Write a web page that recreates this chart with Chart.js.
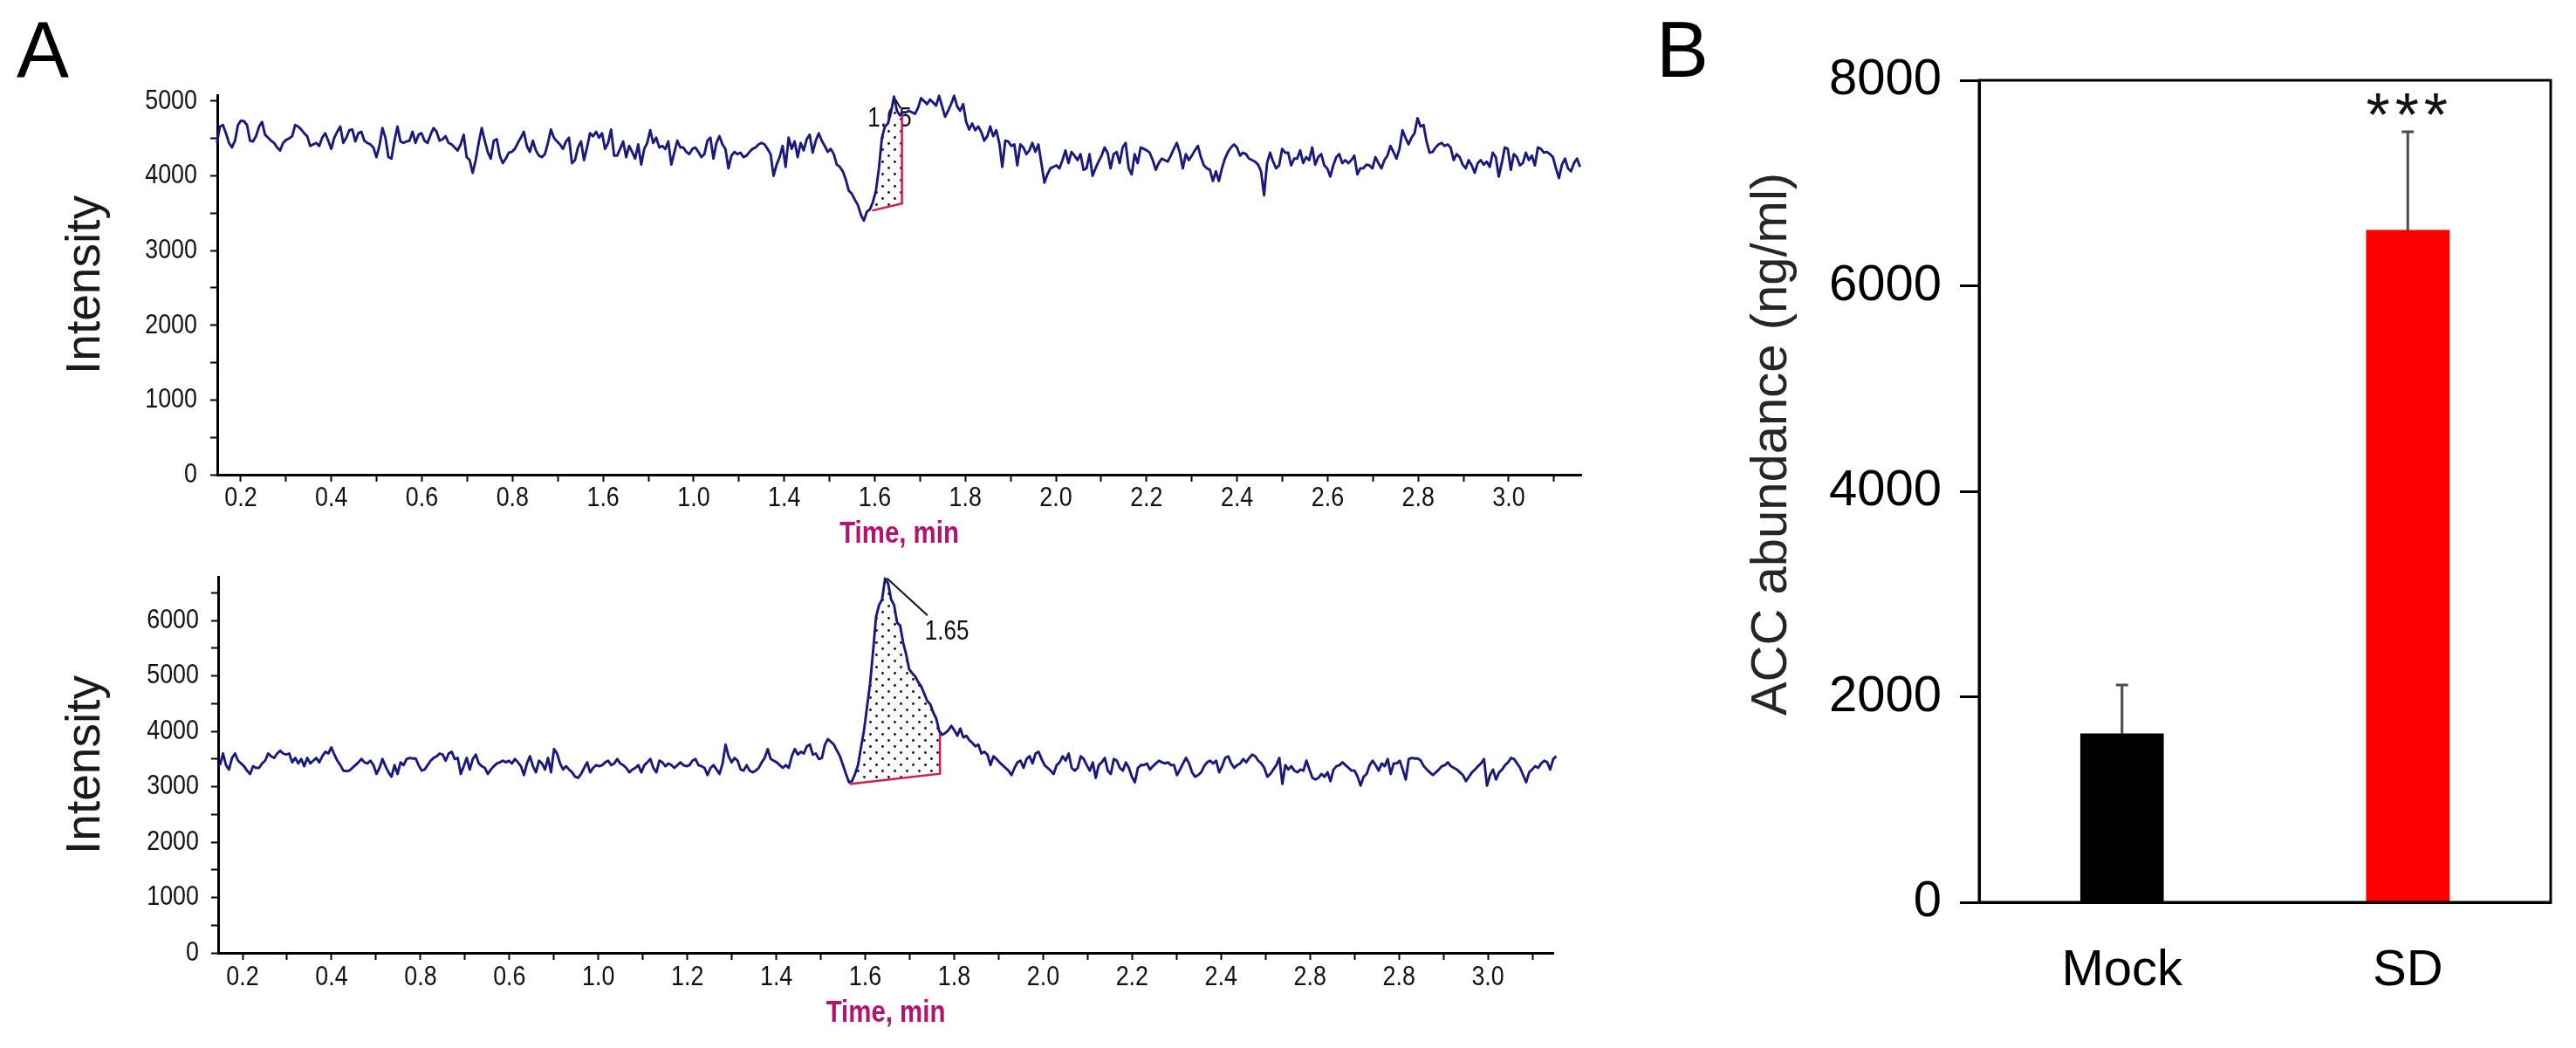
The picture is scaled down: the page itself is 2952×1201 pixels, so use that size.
<!DOCTYPE html>
<html>
<head>
<meta charset="utf-8">
<title>ACC chromatograms and abundance</title>
<script src="https://cdn.jsdelivr.net/npm/chart.js@4.4.1/dist/chart.umd.min.js"></script>
<style>
  html, body { margin: 0; padding: 0; background: #fff; }
  body { width: 2952px; height: 1201px; position: relative; overflow: hidden; }
  .box { position: absolute; }
  .panel { position: absolute; font-family: 'Liberation Sans', Arial, sans-serif; font-size: 90px; line-height: 1; color: #000; }
</style>
</head>
<body>
<div class="panel" style="left:19px; top:12px;">A</div>
<div class="panel" style="left:1898px; top:12px;">B</div>
<div class="box" style="left:0; top:0; width:1840px; height:650px;"><canvas id="top"></canvas></div>
<div class="box" style="left:0; top:600px; width:1840px; height:601px;"><canvas id="bottom"></canvas></div>
<div class="box" style="left:1850px; top:0; width:1102px; height:1201px;"><canvas id="bars"></canvas></div>
<script>
const SANS = "'Liberation Sans', Arial, sans-serif";
const NARROW_SCALE = 0.84; // the instrument software prints in a condensed face

// sampling of the two chromatogram traces (min)
const topStart = 0.1472, topStep = 0.006645;
const bottomStart = 0.1491, bottomStep = 0.006767;

// intensity
const topIntensity = [
  4440, 4660, 4680, 4570, 4440, 4380, 4470, 4680, 4740, 4730,
  4680, 4470, 4460, 4530, 4660, 4720, 4550, 4510, 4470, 4440,
  4380, 4340, 4440, 4480, 4500, 4530, 4680, 4660, 4620, 4570,
  4530, 4400, 4420, 4440, 4400, 4510, 4570, 4470, 4360, 4510,
  4590, 4660, 4440, 4510, 4610, 4620, 4460, 4570, 4590, 4470,
  4440, 4420, 4380, 4250, 4400, 4640, 4510, 4250, 4230, 4470,
  4660, 4460, 4440, 4460, 4470, 4590, 4440, 4550, 4570, 4470,
  4440, 4550, 4640, 4590, 4470, 4490, 4530, 4440, 4420, 4380,
  4340, 4420, 4550, 4250, 4210, 4040, 4210, 4440, 4640, 4470,
  4320, 4230, 4470, 4490, 4270, 4170, 4230, 4310, 4320, 4360,
  4440, 4510, 4590, 4400, 4320, 4470, 4340, 4270, 4250, 4290,
  4440, 4620, 4510, 4460, 4420, 4360, 4460, 4510, 4170, 4210,
  4380, 4460, 4210, 4380, 4570, 4530, 4590, 4510, 4570, 4360,
  4440, 4620, 4270, 4270, 4360, 4460, 4250, 4400, 4320, 4230,
  4420, 4150, 4360, 4440, 4610, 4440, 4510, 4380, 4400, 4360,
  4460, 4150, 4310, 4470, 4380,
  4380, 4320, 4290, 4360, 4380, 4320, 4250, 4290, 4470, 4510,
  4230, 4440, 4530, 4420, 4360, 4100, 4270, 4320, 4290, 4310,
  4250, 4270, 4320, 4360, 4380, 4420, 4440, 4420, 4360, 4290,
  4000, 4150, 4250, 4400, 4120, 4510, 4360, 4460, 4250, 4440,
  4340, 4490, 4550, 4310, 4470, 4570, 4470, 4400, 4320, 4360,
  4290, 4150, 4120, 4060, 3950, 3800, 3760, 3680, 3610, 3480,
  3400, 3520, 3550, 3650, 3800, 4100, 4510, 4660, 4700, 4850,
  5060, 4870, 4810, 4850, 4850, 4870, 4850, 4830, 4910, 5040,
  5000, 4960, 5020, 4980, 4940, 5070, 4930, 4790, 4870, 4960,
  5070, 4930, 4870, 4960, 4720, 4620, 4700, 4610, 4660, 4590,
  4470, 4530, 4660, 4530, 4610, 4440, 4120, 4470, 4460, 4400,
  4420, 4140, 4420, 4380, 4290, 4340, 4440, 4320, 4420, 4170,
  3910, 4020, 4100, 4120, 4140, 4100, 4210, 4340, 4170, 4320,
  4270, 4210, 4290, 4080, 4100, 4290, 4000, 4100, 4190, 4270,
  4380, 4310, 4100, 4290, 4320, 4170, 4380, 4440, 4100, 4020,
  4290, 4170, 4380, 4360,
  4340, 4310, 4210, 4080, 4170, 4230, 4210, 4190, 4270, 4360,
  4440, 4310, 4100, 4290, 4210, 4270, 4340, 4400, 4250, 4140,
  4100, 4080, 3930, 4060, 3930, 4100, 4230, 4320, 4380, 4420,
  4380, 4270, 4310, 4290, 4230, 4210, 4190, 4150, 4060, 3740,
  4170, 4310, 4190, 4100, 4140, 4360, 4310, 4310, 4140, 4230,
  4230, 4340, 4170, 4250, 4210, 4380, 4150, 4250, 4290, 4140,
  4100, 3990, 4140, 4250, 4290, 4170, 4210, 4170, 4210, 4270,
  4020, 4100, 4100, 4150, 4140, 4100, 4250, 4170, 4100, 4210,
  4270, 4400, 4320, 4230, 4360, 4610, 4510, 4420, 4510, 4570,
  4770, 4660, 4680, 4460, 4310, 4320, 4380, 4420, 4440, 4400,
  4420, 4380, 4210, 4290, 4250, 4150, 4100, 4210, 4140, 4040,
  4170, 4210, 4150, 4190, 4120, 4310, 4250, 3990, 4170, 4380,
  4360, 4080, 4290, 4250, 4140, 4170, 4310, 4210, 4270, 4140,
  4380, 4360, 4310, 4320, 4290, 4250, 4100, 3970, 4150, 4230,
  4100, 4060, 4170, 4230, 4120
];

// intensity
const bottomIntensity = [
  3390, 3600, 3390, 3310, 3520, 3600, 3470, 3420, 3370, 3290,
  3230, 3370, 3340, 3340, 3420, 3470, 3600, 3550, 3520, 3600,
  3650, 3600, 3580, 3600, 3440, 3520, 3420, 3500, 3370, 3520,
  3420, 3470, 3520, 3440, 3550, 3630, 3600, 3710, 3580, 3470,
  3390, 3290, 3280, 3290, 3340, 3390, 3440, 3500, 3440, 3420,
  3470, 3390, 3230, 3340, 3500, 3370, 3260, 3180, 3390, 3230,
  3440, 3390, 3500, 3520, 3510, 3510, 3390, 3290, 3310, 3390,
  3470, 3520, 3550, 3600, 3580, 3470, 3600, 3630, 3500, 3520,
  3230, 3370, 3520, 3310, 3500, 3580, 3420, 3370, 3340, 3230,
  3310, 3370, 3420, 3440, 3470, 3440, 3470, 3420, 3500, 3440,
  3370, 3210, 3420, 3550, 3370, 3260, 3470, 3420, 3310, 3520,
  3260, 3680, 3600, 3420, 3310, 3370, 3310, 3260, 3180, 3160,
  3230, 3340, 3440, 3260, 3340, 3390, 3370, 3390, 3440, 3470,
  3390, 3420, 3500, 3420, 3390, 3340, 3260, 3310, 3340, 3390,
  3260, 3390, 3440, 3500, 3340, 3260, 3470, 3440, 3370, 3420,
  3390, 3340, 3390, 3440,
  3390, 3370, 3390, 3470, 3500, 3390, 3370, 3340, 3210, 3340,
  3390, 3310, 3230, 3420, 3760, 3550, 3440, 3520, 3470, 3310,
  3290, 3390, 3290, 3260, 3290, 3340, 3440, 3520, 3680, 3500,
  3470, 3440, 3390, 3340, 3390, 3340, 3550, 3680, 3580, 3630,
  3600, 3730, 3760, 3580, 3600, 3500, 3520, 3760, 3860, 3810,
  3760, 3650, 3550, 3390, 3230, 3080, 3100, 3230, 3390, 3710,
  4020, 4440, 4860, 5440, 6070, 6280, 6380, 6760, 6670, 6380,
  6280, 5960, 5910, 5600, 5390, 5120, 5050, 4990, 4890, 4810,
  4680, 4550, 4490, 4340, 4230, 4000, 3940, 3970, 4020, 4100,
  4020, 3920, 4050, 3890, 3920, 3840, 3790, 3730, 3760, 3600,
  3630, 3580, 3390, 3550, 3500, 3440, 3390, 3340, 3290, 3210,
  3340, 3440, 3470, 3340, 3500, 3550, 3420, 3600, 3630, 3500,
  3390, 3340, 3290, 3230, 3390, 3440, 3550, 3470, 3600, 3340,
  3290, 3340, 3550, 3500, 3390, 3290, 3440, 3160, 3390, 3440,
  3520, 3290, 3230, 3500, 3470, 3340, 3290, 3440, 3340, 3180,
  3080, 3340, 3390, 3390,
  3420, 3310, 3370, 3420, 3470, 3440, 3420, 3440, 3390, 3390,
  3210, 3310, 3420, 3520, 3420, 3260, 3180, 3210, 3260, 3370,
  3440, 3470, 3420, 3470, 3260, 3370, 3520, 3550, 3420, 3340,
  3390, 3420, 3500, 3440, 3520, 3580, 3550, 3470, 3420, 3340,
  3180, 3230, 3310, 3390, 3520, 3050, 3390, 3310, 3370, 3290,
  3260, 3310, 3290, 3470, 3310, 3160, 3130, 3160, 3230, 3180,
  3260, 3100, 3310, 3370, 3390, 3440, 3390, 3340, 3290, 3290,
  3180, 3020, 3180, 3230, 3390, 3470, 3390, 3290, 3420, 3370,
  3500, 3230, 3420, 3420, 3470, 3310, 3130, 3500, 3520, 3510,
  3510, 3470, 3370, 3310, 3260, 3210, 3260, 3310, 3370, 3390,
  3440, 3370, 3340, 3310, 3260, 3210, 3100, 3180, 3260, 3310,
  3370, 3420, 3500, 3020, 3210, 3310, 3130, 3260, 3310, 3390,
  3440, 3520, 3500, 3420, 3340, 3210, 3080, 3260, 3310, 3370,
  3340, 3420, 3470, 3440, 3310, 3500, 3550, 3440
];

// time axis ticks and the labels printed under them
const majorTimes = [0.2, 0.4, 0.6, 0.8, 1.0, 1.2, 1.4, 1.6, 1.8, 2.0, 2.2, 2.4, 2.6, 2.8, 3.0];
const minorTimes = [0.3, 0.5, 0.7, 0.9, 1.1, 1.3, 1.5, 1.7, 1.9, 2.1, 2.3, 2.5, 2.7, 2.9, 3.1];
const topTimeLabels = ['0.2', '0.4', '0.6', '0.8', '1.6', '1.0', '1.4', '1.6', '1.8', '2.0', '2.2', '2.4', '2.6', '2.8', '3.0'];
const bottomTimeLabels = ['0.2', '0.4', '0.8', '0.6', '1.0', '1.2', '1.4', '1.6', '1.8', '2.0', '2.2', '2.4', '2.8', '2.8', '3.0'];
const topIntensityTicks = [0, 500, 1000, 1500, 2000, 2500, 3000, 3500, 4000, 4500, 5000];
const bottomIntensityTicks = [0, 500, 1000, 1500, 2000, 2500, 3000, 3500, 4000, 4500, 5000, 5500, 6000, 6500];

// integrated peak: start time, end time, baseline intensity at start, at end
const topPeak = [1.594, 1.660, 3534, 3628];
const bottomPeak = [1.565, 1.768, 3050, 3234];
// retention time label: leader line (time, intensity) pairs and text anchor
const topPeakLeader = [[1.642, 5056], [1.657, 4906]];
const topPeakText = [1.584, 4656];
const bottomPeakLeader = [[1.649, 6762], [1.740, 6094]];
const bottomPeakText = [1.734, 5654];

// panel B
const groups = ['Mock', 'SD'];
const accMean = [1640, 6540];
const accSd = [475, 960];

const timeTicks = majorTimes.concat(minorTimes).sort((a, b) => a - b);

function timeLabel(value, labels) {
  const i = majorTimes.findIndex(t => Math.abs(t - value) < 1e-6);
  return i >= 0 ? labels[i] : '';
}

function narrowText(ctx, text, px, py, align) {
  ctx.save();
  ctx.translate(px, py);
  ctx.scale(NARROW_SCALE, 1);
  ctx.textAlign = align;
  ctx.fillText(text, 0, 0);
  ctx.restore();
}

function dotPattern(ctx) {
  const c = document.createElement('canvas');
  c.width = 14; c.height = 14;
  const g = c.getContext('2d');
  g.fillStyle = '#fafafa';
  g.fillRect(0, 0, 14, 14);
  g.fillStyle = '#111';
  [[3.5, 3.5], [10.5, 10.5]].forEach(([px, py]) => {
    g.beginPath(); g.arc(px, py, 1.4, 0, Math.PI * 2); g.fill();
  });
  return ctx.createPattern(c, 'repeat');
}

function peakPlugin(peak, leader, text) {
  return {
    id: 'peakArea',
    beforeDatasetsDraw(chart) {
      const {ctx, scales: {x, y}} = chart;
      const pts = chart.data.datasets[0].data.filter(p => p.x >= peak[0] && p.x <= peak[1]);
      const last = pts[pts.length - 1];
      ctx.save();
      // retention time
      ctx.fillStyle = '#111';
      ctx.font = '31px ' + SANS;
      ctx.textBaseline = 'alphabetic';
      narrowText(ctx, '1.65', x.getPixelForValue(text[0]), y.getPixelForValue(text[1]), 'left');
      ctx.strokeStyle = '#111';
      ctx.lineWidth = 2;
      ctx.beginPath();
      ctx.moveTo(x.getPixelForValue(leader[0][0]), y.getPixelForValue(leader[0][1]));
      ctx.lineTo(x.getPixelForValue(leader[1][0]), y.getPixelForValue(leader[1][1]));
      ctx.stroke();
      // shaded area
      ctx.beginPath();
      ctx.moveTo(x.getPixelForValue(peak[0]), y.getPixelForValue(peak[2]));
      pts.forEach(p => ctx.lineTo(x.getPixelForValue(p.x), y.getPixelForValue(p.y)));
      ctx.lineTo(x.getPixelForValue(peak[1]), y.getPixelForValue(last.y));
      ctx.lineTo(x.getPixelForValue(peak[1]), y.getPixelForValue(peak[3]));
      ctx.closePath();
      ctx.fillStyle = dotPattern(ctx);
      ctx.fill();
      // baseline and drop line
      ctx.strokeStyle = '#cc1f55';
      ctx.lineWidth = 2.5;
      ctx.beginPath();
      ctx.moveTo(x.getPixelForValue(peak[0]), y.getPixelForValue(peak[2]));
      ctx.lineTo(x.getPixelForValue(peak[1]), y.getPixelForValue(peak[3]));
      ctx.lineTo(x.getPixelForValue(peak[1]), y.getPixelForValue(last.y));
      ctx.stroke();
      ctx.restore();
    }
  };
}

// tick labels and the time title in a condensed face
function axisTextPlugin(cfg) {
  return {
    id: 'axisText',
    afterDraw(chart) {
      const {ctx, chartArea: a, scales: {x, y}} = chart;
      ctx.save();
      ctx.fillStyle = '#111';
      ctx.font = '32px ' + SANS;
      ctx.textBaseline = 'middle';
      x.ticks.forEach(t => {
        const lab = timeLabel(t.value, cfg.labels);
        if (lab) narrowText(ctx, lab, x.getPixelForValue(t.value), a.bottom + cfg.xLabelGap, 'center');
      });
      y.ticks.forEach(t => {
        if (t.value % 1000 === 0) narrowText(ctx, String(t.value), a.left - cfg.yLabelGap, y.getPixelForValue(t.value), 'right');
      });
      ctx.fillStyle = '#b3126f';
      ctx.font = 'bold 35px ' + SANS;
      narrowText(ctx, 'Time, min', (a.left + a.right) / 2, a.bottom + cfg.titleGap, 'center');
      ctx.restore();
    }
  };
}

function traceChart(id, cfg) {
  const points = cfg.values.map((v, i) => ({x: cfg.start + i * cfg.step, y: v}));
  return new Chart(document.getElementById(id), {
    type: 'line',
    data: {
      datasets: [{
        data: points,
        borderColor: '#1a1a7c',
        borderWidth: 2.9,
        borderJoinStyle: 'round',
        pointRadius: 0,
        tension: 0,
        clip: false
      }]
    },
    options: {
      responsive: true,
      maintainAspectRatio: false,
      animation: false,
      layout: {padding: cfg.padding},
      plugins: {legend: {display: false}, tooltip: {enabled: false}},
      scales: {
        x: {
          type: 'linear',
          min: cfg.xMin,
          max: cfg.xMax,
          afterBuildTicks: s => { s.ticks = timeTicks.map(v => ({value: v})); },
          afterFit: s => { s.height = cfg.xHeight; },
          ticks: {display: false, autoSkip: false},
          grid: {drawOnChartArea: false, tickLength: 8, tickWidth: 2, tickColor: '#000'},
          border: {color: '#000', width: 3}
        },
        y: {
          min: 0,
          max: cfg.yMax,
          afterBuildTicks: s => { s.ticks = cfg.yTicks.map(v => ({value: v})); },
          afterFit: s => { s.width = cfg.yWidth; },
          ticks: {display: false},
          grid: {drawOnChartArea: false, tickLength: 8, tickWidth: 2, tickColor: '#000'},
          border: {color: '#000', width: 3},
          title: {
            display: true,
            text: 'Intensity',
            color: '#1a1a1a',
            font: {family: SANS, size: 55},
            padding: {top: 66, bottom: 0}
          }
        }
      }
    },
    plugins: [peakPlugin(cfg.peak, cfg.leader, cfg.text), axisTextPlugin(cfg)]
  });
}

traceChart('top', {
  values: topIntensity, start: topStart, step: topStep,
  xMin: 0.148, xMax: 3.160, yMax: 5080, yTicks: topIntensityTicks,
  labels: topTimeLabels, peak: topPeak, leader: topPeakLeader, text: topPeakText,
  padding: {left: 0, right: 28, top: 109, bottom: 17},
  xHeight: 89, yWidth: 249, xLabelGap: 27, yLabelGap: 23, titleGap: 68
});

traceChart('bottom', {
  values: bottomIntensity, start: bottomStart, step: bottomStep,
  xMin: 0.145, xMax: 3.147, yMax: 6790, yTicks: bottomIntensityTicks,
  labels: bottomTimeLabels, peak: bottomPeak, leader: bottomPeakLeader, text: bottomPeakText,
  padding: {left: 0, right: 60, top: 61, bottom: 19},
  xHeight: 90, yWidth: 250, xLabelGap: 28, yLabelGap: 22, titleGap: 69
});

const barDecor = {
  id: 'barDecor',
  afterDatasetsDraw(chart) {
    const {ctx, chartArea: a, scales: {y}} = chart;
    const meta = chart.getDatasetMeta(0);
    ctx.save();
    // error bars (upper half only)
    ctx.strokeStyle = '#4a4a4a';
    ctx.lineWidth = 3;
    meta.data.forEach((bar, i) => {
      const yTop = y.getPixelForValue(accMean[i] + accSd[i]);
      ctx.beginPath();
      ctx.moveTo(bar.x, bar.y);
      ctx.lineTo(bar.x, yTop);
      ctx.moveTo(bar.x - 7, yTop);
      ctx.lineTo(bar.x + 7, yTop);
      ctx.stroke();
    });
    // frame
    ctx.strokeStyle = '#000';
    ctx.lineWidth = 3;
    ctx.strokeRect(a.left, a.top, a.right - a.left, a.bottom - a.top);
    // significance
    const sd = meta.data[1];
    const yStar = y.getPixelForValue(accMean[1] + accSd[1]) + 5;
    ctx.fillStyle = '#111';
    ctx.font = '70px ' + SANS;
    ctx.textAlign = 'center';
    ctx.textBaseline = 'alphabetic';
    ctx.save();
    ctx.translate(sd.x - 1, yStar);
    ctx.letterSpacing = '6px';
    ctx.fillText('***', 3, 0);
    ctx.restore();
    // axis title
    ctx.translate(181, 509);
    ctx.rotate(-Math.PI / 2);
    ctx.fillStyle = '#262626';
    ctx.font = '58px ' + SANS;
    ctx.textBaseline = 'middle';
    ctx.fillText('ACC abundance (ng/ml)', 0, 0);
    ctx.restore();
  }
};

new Chart(document.getElementById('bars'), {
  type: 'bar',
  data: {
    labels: groups,
    datasets: [{
      data: accMean,
      backgroundColor: ['#000000', '#ff0000'],
      barThickness: 95
    }]
  },
  options: {
    responsive: true,
    maintainAspectRatio: false,
    animation: false,
    layout: {padding: {left: 0, right: 29, top: 92, bottom: 27}},
    plugins: {legend: {display: false}, tooltip: {enabled: false}},
    scales: {
      x: {
        afterFit: s => { s.height = 140; },
        ticks: {padding: 44, color: '#000', font: {family: SANS, size: 58}},
        grid: {display: false, drawTicks: false},
        border: {display: true, color: '#000', width: 3}
      },
      y: {
        min: 0,
        max: 8000,
        afterFit: s => { s.width = 418; },
        ticks: {stepSize: 2000, padding: 21, color: '#000', font: {family: SANS, size: 58}, callback: v => String(v)},
        grid: {drawOnChartArea: false, tickLength: 22, tickWidth: 3, tickColor: '#000'},
        border: {color: '#000', width: 3}
      }
    }
  },
  plugins: [barDecor]
});
</script>
</body>
</html>
